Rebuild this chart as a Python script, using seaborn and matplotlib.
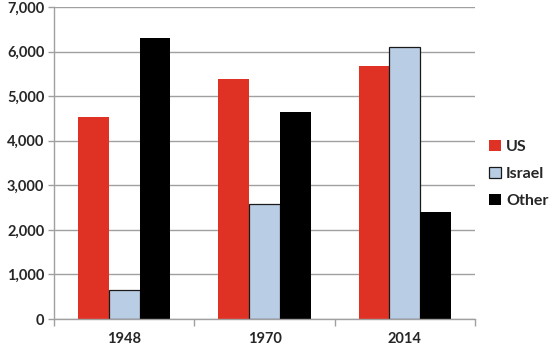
import matplotlib
matplotlib.use("Agg")
import matplotlib.pyplot as plt
import seaborn as sns
import pandas as pd
from matplotlib.ticker import FuncFormatter, FixedLocator

years = ["1948", "1970", "2014"]
series = ["US", "Israel", "Other"]
us = [4530, 5390, 5680]
israel = [640, 2580, 6100]
other = [6300, 4650, 2400]
colors = ["#E03224", "#B9CDE5", "#000000"]

df = pd.DataFrame({
    "year": years * 3,
    "series": ["US"] * 3 + ["Israel"] * 3 + ["Other"] * 3,
    "value": us + israel + other,
})

sns.set_theme(style="white")
plt.rcParams["font.family"] = ["Lato", "DejaVu Sans"]
plt.rcParams["font.weight"] = "bold"

fig = plt.figure(figsize=(5.53, 3.48), dpi=100)
ax = fig.add_axes([0.0976, 0.0833, 0.859 - 0.0976, 0.98 - 0.0833])

sns.barplot(data=df, x="year", y="value", hue="series", order=years,
            hue_order=series, palette=colors, width=0.66, gap=0,
            saturation=1, ax=ax, linewidth=0, errorbar=None)

for cont, s in zip(ax.containers, series):
    for p in cont:
        if s == "Israel":
            p.set_edgecolor("#1a1a1a")
            p.set_linewidth(0.9)
        else:
            p.set_linewidth(0)

ax.set_ylim(0, 7000)
ax.set_xlim(-0.5, 2.5)
ax.set_yticks(range(0, 7001, 1000))
ax.yaxis.set_major_formatter(FuncFormatter(lambda v, p: f"{int(v):,}"))
ax.yaxis.grid(True, color="#A0A0A0", linewidth=1.0)
ax.set_axisbelow(True)
ax.set_xlabel("")
ax.set_ylabel("")

for s in ["top", "right"]:
    ax.spines[s].set_visible(False)
for s in ["left", "bottom"]:
    ax.spines[s].set_color("#A0A0A0")
    ax.spines[s].set_linewidth(1.0)

ax.tick_params(axis="y", length=4, width=1.0, color="#A0A0A0", pad=3,
               labelsize=10.5, left=True)
ax.xaxis.set_minor_locator(FixedLocator([-0.5, 0.5, 1.5, 2.5]))
ax.tick_params(axis="x", which="major", length=0, pad=9, labelsize=10.5)
ax.tick_params(axis="x", which="minor", length=5, width=1.0,
               color="#A0A0A0", bottom=True)
for lbl in ax.get_xticklabels() + ax.get_yticklabels():
    lbl.set_fontweight("bold")

handles, labels = ax.get_legend_handles_labels()
leg = ax.legend(handles, labels, loc="center left", bbox_to_anchor=(1.0, 0.465),
                frameon=False, prop={"size": 11.5, "weight": "bold"},
                handlelength=0.7, handleheight=0.7, handletextpad=0.35,
                labelspacing=0.8)
for h, s in zip(leg.legend_handles, labels):
    if s == "Israel":
        h.set_edgecolor("#1a1a1a")
        h.set_linewidth(0.9)

fig.savefig("out.png", dpi=100)
